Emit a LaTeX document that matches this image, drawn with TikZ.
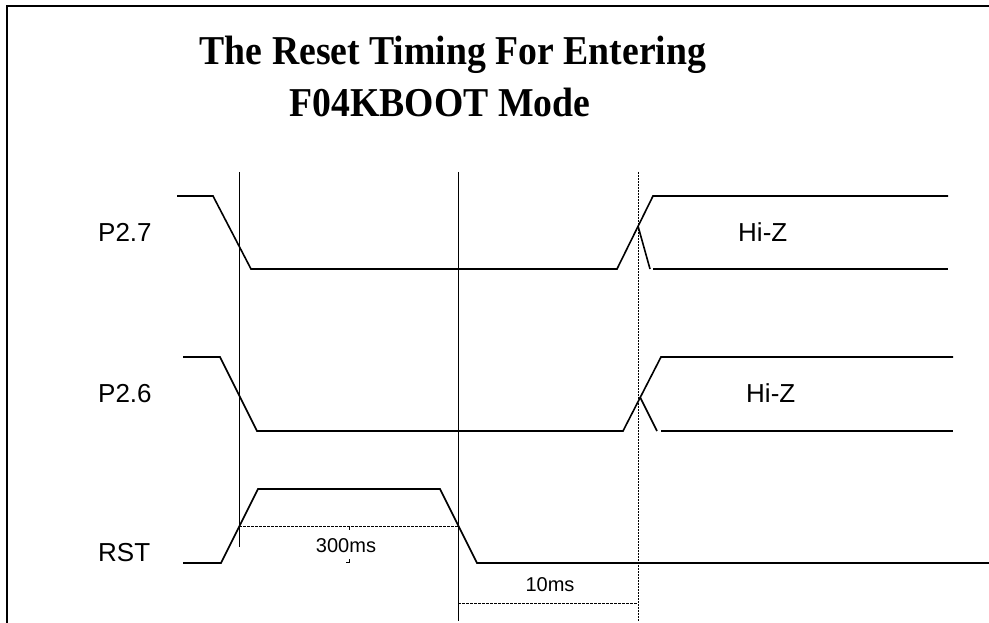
\documentclass[tikz,border=0pt]{standalone}
\usepackage{fontspec}
\setmainfont{Liberation Serif}
\setsansfont{Liberation Sans}
\usepackage{tikz}
\definecolor{traceblack}{RGB}{0, 0, 0}

\tikzset{
  wave/.style={draw=traceblack, line width=1.6pt, line join=miter},
  guide/.style={draw=traceblack, line width=0.9pt},
  guidedash/.style={draw=traceblack, line width=0.9pt, dash pattern=on 2pt off 1pt},
  dimline/.style={draw=traceblack, line width=0.7pt, dash pattern=on 3pt off 1pt},
  titletext/.style={font=\bfseries\fontsize{41}{44}\selectfont, anchor=base, inner sep=0pt},
  siglabel/.style={font=\sffamily\fontsize{26}{28}\selectfont, anchor=base west, inner sep=0pt},
  dimlabel/.style={font=\sffamily\fontsize{20}{22}\selectfont, anchor=base, inner sep=0pt}
}

\begin{document}
\begin{tikzpicture}[x=1pt, y=-1pt]
\useasboundingbox (0,0) rectangle (989,623);

% Frame (open at right and bottom)
\draw[line width=2.4pt] (7,623) -- (7,6) -- (989,6);

% Title
\node[titletext] (title1) at (453,65) {\scalebox{0.92}[1]{The Reset Timing For Entering}};
\node[titletext] (title2) at (440,117) {\scalebox{0.92}[1]{F04KBOOT Mode}};

% Signal names
\node[siglabel] (p27) at (98,241) {P2.7};
\node[siglabel] (p26) at (98,402) {P2.6};
\node[siglabel] (rst) at (98,561) {RST};
\node[siglabel] (hiz1) at (738,241) {Hi-Z};
\node[siglabel] (hiz2) at (746,402) {Hi-Z};

% Time markers
\draw[guide] (239,172) -- (239,547);
\draw[guide] (458,172) -- (458,621);
\draw[guidedash] (638,172) -- (638,621);

% P2.7
\draw[wave] (177,196) -- (213,196) -- (251,269) -- (617,269) -- (653,196) -- (948,196);
\draw[wave] (638,226) -- (650,269);
\draw[wave] (653,269) -- (948,269);

% P2.6
\draw[wave] (183,357) -- (220,357) -- (257,431) -- (623,431) -- (661,357) -- (953,357);
\draw[wave] (640,397) -- (657,431);
\draw[wave] (661,431) -- (953,431);

% RST
\draw[wave] (183,563) -- (221,563) -- (258,489) -- (440,489) -- (477,563) -- (989,563);

% 300ms
\draw[dimline] (239,526) -- (458,526);
\draw[line width=0.8pt] (349,526) -- (349,530);
\draw[line width=0.8pt] (346,562) -- (349,562) -- (349,559);
\node[dimlabel] (t300) at (346,552) {300ms};

% 10ms
\draw[dimline] (458,603) -- (638,603);
\node[dimlabel] (t10) at (550,591) {10ms};
\end{tikzpicture}
\end{document}
